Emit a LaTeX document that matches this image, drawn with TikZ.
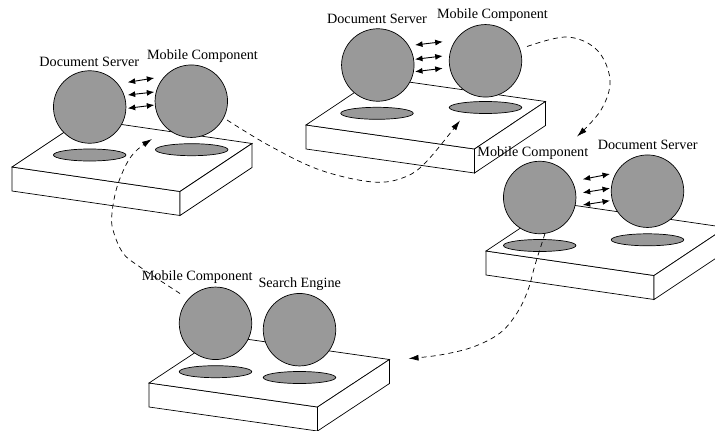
\documentclass[tikz,border=0pt]{standalone}
\usepackage{fontspec}
\setmainfont{Liberation Serif}
\usetikzlibrary{arrows.meta,shapes.geometric,calc}
\definecolor{ballgray}{RGB}{153,153,153}
\tikzset{
  every picture/.style={line width=0.7pt},
  platform/.style={draw,fill=white,line join=miter},
  ball/.style={circle,draw,fill=ballgray,minimum size=72.5pt,inner sep=0pt},
  disc/.style={ellipse,draw,fill=ballgray,minimum width=72.5pt,minimum height=12pt,inner sep=0pt},
  lbl/.style={anchor=base,inner sep=0pt,font=\fontsize{14.2}{16}\selectfont},
  link/.style={line width=0.9pt,{Latex[length=7.5pt,width=6pt]}-{Latex[length=7.5pt,width=6pt]}},
  move/.style={dash pattern=on 5pt off 4pt,-{Latex[length=10pt,width=6pt]}}
}
\begin{document}
\begin{tikzpicture}[x=1pt,y=-1pt]
\useasboundingbox (0,0) rectangle (715,431);
\clip (0,0) rectangle (715,431);

% ---------- platform 1 (top left)
\coordinate (a1L) at (12,167);
\coordinate (a1F) at (180,191.5);
\coordinate (a1R) at (252,143.5);
\coordinate (a1B) at (84,119);
\draw[platform] (a1L) -- (a1F) -- ++(0,24) -- ($(a1L)+(0,24)$) -- cycle;
\draw[platform] (a1L) -- (a1F) -- (a1R) -- (a1B) -- cycle;
\draw[platform] (a1F) -- (a1R) -- ++(0,24) -- ($(a1F)+(0,24)$) -- cycle;
\node[disc] (e1a) at (89.7,155) {};
\node[disc] (e1b) at (191.7,149.7) {};
\node[ball] (s1a) at (89.7,107) {};
\node[ball] (s1b) at (191.3,101.2) {};
\node[lbl] (t1a) at (89.3,66) {Document Server};
\node[lbl] (t1b) at (202.5,59.3) {Mobile Component};
\coordinate (p1a) at (127.7,82.3); \coordinate (q1a) at (154.3,78);
\coordinate (p1b) at (127.7,95);   \coordinate (q1b) at (154.3,92);
\coordinate (p1c) at (127.7,108.3);\coordinate (q1c) at (154.3,105);
\draw[link] (p1a) -- (q1a);
\draw[link] (p1b) -- (q1b);
\draw[link] (p1c) -- (q1c);

% ---------- platform 2 (top middle)
\coordinate (a2L) at (306,125);
\coordinate (a2F) at (474.5,149);
\coordinate (a2R) at (545.5,101.5);
\coordinate (a2B) at (377,77.5);
\draw[platform] (a2L) -- (a2F) -- ++(0,24) -- ($(a2L)+(0,24)$) -- cycle;
\draw[platform] (a2L) -- (a2F) -- (a2R) -- (a2B) -- cycle;
\draw[platform] (a2F) -- (a2R) -- ++(0,24) -- ($(a2F)+(0,24)$) -- cycle;
\node[disc] (e2a) at (377,113.3) {};
\node[disc] (e2b) at (485.5,107.5) {};
\node[ball] (s2a) at (377.8,65) {};
\node[ball] (s2b) at (485.5,60.8) {};
\node[lbl] (t2a) at (377,23.3) {Document Server};
\node[lbl] (t2b) at (492.5,18.3) {Mobile Component};
\coordinate (p2a) at (415,45);   \coordinate (q2a) at (442.7,41.7);
\coordinate (p2b) at (415,59.3); \coordinate (q2b) at (442.7,56);
\coordinate (p2c) at (415,71.7); \coordinate (q2c) at (442.7,68.3);
\draw[link] (p2a) -- (q2a);
\draw[link] (p2b) -- (q2b);
\draw[link] (p2c) -- (q2c);

% ---------- platform 3 (right)
\coordinate (a3L) at (486,251);
\coordinate (a3F) at (654,275.5);
\coordinate (a3R) at (726,227.5);
\coordinate (a3B) at (558,203);
\draw[platform] (a3L) -- (a3F) -- ++(0,24) -- ($(a3L)+(0,24)$) -- cycle;
\draw[platform] (a3L) -- (a3F) -- (a3R) -- (a3B) -- cycle;
\draw[platform] (a3F) -- (a3R) -- ++(0,24) -- ($(a3F)+(0,24)$) -- cycle;
\node[disc] (e3a) at (539.7,245.5) {};
\node[disc] (e3b) at (647.5,239.8) {};
\node[ball] (s3a) at (539.7,197.5) {};
\node[ball] (s3b) at (647.5,191.2) {};
\node[lbl] (t3a) at (532.8,156) {Mobile Component};
\node[lbl] (t3b) at (647.7,149.3) {Document Server};
\coordinate (p3a) at (582.7,179.3); \coordinate (q3a) at (610,174);
\coordinate (p3b) at (582.7,192.7); \coordinate (q3b) at (610,188.3);
\coordinate (p3c) at (582.7,205);   \coordinate (q3c) at (610,200.7);
\draw[link] (p3a) -- (q3a);
\draw[link] (p3b) -- (q3b);
\draw[link] (p3c) -- (q3c);

% ---------- platform 4 (bottom)
\coordinate (a4L) at (149,383);
\coordinate (a4F) at (317.5,407);
\coordinate (a4R) at (389.5,359.5);
\coordinate (a4B) at (221,335.5);
\draw[platform] (a4L) -- (a4F) -- ++(0,24) -- ($(a4L)+(0,24)$) -- cycle;
\draw[platform] (a4L) -- (a4F) -- (a4R) -- (a4B) -- cycle;
\draw[platform] (a4F) -- (a4R) -- ++(0,24) -- ($(a4F)+(0,24)$) -- cycle;
\node[disc] (e4a) at (215.5,371.7) {};
\node[disc] (e4b) at (299.5,377.5) {};
\node[ball] (s4a) at (215.5,323.3) {};
\node[ball] (s4b) at (299.5,329.7) {};
\node[lbl] (t4a) at (197.2,280.7) {Mobile Component};
\node[lbl] (t4b) at (299.7,287.3) {Search Engine};

% ---------- migration paths
\coordinate (m1s) at (227,120);
\coordinate (m1e) at (460,120.5);
\draw[move] plot[smooth,tension=0.6] coordinates {(m1s) (270,146) (320,170) (373,182) (405,177) (427,161) (m1e)};

\coordinate (m2s) at (527,46.5);
\coordinate (m2e) at (577,136.5);
\draw[move] plot[smooth,tension=0.6] coordinates {(m2s) (567,37) (597,50) (610,80) (601,110) (m2e)};

\coordinate (m3s) at (545,233.5);
\coordinate (m3e) at (408.5,358.5);
\draw[move] plot[smooth,tension=0.6] coordinates {(m3s) (535,265) (528,290) (517,313) (500,333) (473,347) (440,355) (m3e)};

\coordinate (m4s) at (180,293.5);
\coordinate (m4e) at (152,139);
\draw[move] plot[smooth,tension=0.6] coordinates {(m4s) (140,267) (123,253) (113,230) (112,213) (117,187) (127,163) (137,150) (m4e)};
\end{tikzpicture}
\end{document}
